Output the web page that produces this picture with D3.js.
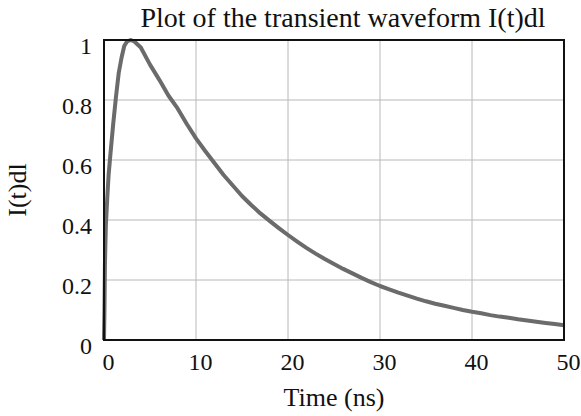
<!DOCTYPE html>
<html>
<head>
<meta charset="utf-8">
<script src="https://cdn.jsdelivr.net/npm/d3@7"></script>
<style>
  html, body { margin: 0; padding: 0; background: #fff; }
  svg { display: block; }
  text { font-family: "Liberation Serif", "Times New Roman", serif; fill: #111; }
</style>
</head>
<body>
<script>
// Transient current waveform I(t)dl, normalised to its peak
const timeNs = [0, 0.05, 0.1, 0.2, 0.35, 0.5, 0.7, 1.0, 1.3, 1.6, 1.9, 2.2, 2.5, 2.9, 3.3, 4, 5, 6, 7, 8, 9, 10,
  11, 12, 13, 14, 15, 16, 17, 18, 19, 20, 21, 22, 23, 24, 25, 26, 27, 28, 29, 30,
  31, 32, 33, 34, 35, 36, 37, 38, 39, 40, 41, 42, 43, 44, 45, 46, 47, 48, 49, 50];
const current = [0, 0.1, 0.25, 0.38, 0.47, 0.55, 0.62, 0.72, 0.81, 0.89, 0.94, 0.98, 0.995, 1.0, 0.995, 0.975, 0.918, 0.868, 0.815, 0.772, 0.72, 0.672,
  0.63, 0.59, 0.55, 0.515, 0.48, 0.45, 0.422, 0.397, 0.373, 0.35, 0.328, 0.307, 0.288, 0.27, 0.253, 0.237, 0.222, 0.207, 0.193, 0.18,
  0.169, 0.158, 0.148, 0.138, 0.129, 0.121, 0.114, 0.107, 0.1, 0.094, 0.089, 0.083, 0.078, 0.074, 0.069, 0.065, 0.061, 0.057, 0.053, 0.049];
const xTicks = [0, 10, 20, 30, 40, 50];
const yTicks = [0, 0.2, 0.4, 0.6, 0.8, 1];
const yTickLabels = ["0", "0.2", "0.4", "0.6", "0.8", "1"];

const W = 581, H = 416;
const margin = { top: 40, right: 17, bottom: 76, left: 104 };
const iw = W - margin.left - margin.right;
const ih = H - margin.top - margin.bottom;

const svg = d3.select("body").append("svg").attr("width", W).attr("height", H);
const g = svg.append("g").attr("transform", `translate(${margin.left},${margin.top})`);

const x = d3.scaleLinear().domain([0, 50]).range([0, iw]);
const y = d3.scaleLinear().domain([0, 1]).range([ih, 0]);

// grid
g.append("g").selectAll("line").data(xTicks.slice(1, -1)).join("line")
  .attr("x1", d => x(d)).attr("x2", d => x(d)).attr("y1", 0).attr("y2", ih)
  .attr("stroke", "#b8b8b8").attr("stroke-width", 1);
g.append("g").selectAll("line").data(yTicks.slice(1, -1)).join("line")
  .attr("y1", d => y(d)).attr("y2", d => y(d)).attr("x1", 0).attr("x2", iw)
  .attr("stroke", "#b8b8b8").attr("stroke-width", 1);

// axes (labels only; the frame is drawn separately)
const xAxis = g.append("g").attr("transform", `translate(0,${ih})`)
  .call(d3.axisBottom(x).tickValues(xTicks).tickSize(0).tickPadding(14).tickFormat(d3.format("d")));
const yAxis = g.append("g")
  .call(d3.axisLeft(y).tickValues(yTicks).tickSize(0).tickPadding(12).tickFormat((d, i) => yTickLabels[i]));
[xAxis, yAxis].forEach(a => {
  a.select(".domain").remove();
  a.selectAll("text").attr("font-size", 24).attr("font-family", "Liberation Serif").attr("fill", "#111");
});
xAxis.selectAll("text").attr("dx", 4).attr("dy", "0.65em");
yAxis.selectAll("text").attr("dy", "0.55em");

// curve
g.append("path")
  .datum(timeNs.map((t, i) => [t, current[i]]))
  .attr("fill", "none")
  .attr("stroke", "#6b6b6b")
  .attr("stroke-width", 4)
  .attr("stroke-linejoin", "round")
  .attr("d", d3.line().x(d => x(d[0])).y(d => y(d[1])));

// frame
g.append("rect").attr("x", 0).attr("y", 0).attr("width", iw).attr("height", ih)
  .attr("fill", "none").attr("stroke", "#111").attr("stroke-width", 2);

// titles
svg.append("text").attr("x", 343).attr("y", 27).attr("text-anchor", "middle")
  .attr("font-size", 28).text("Plot of the transient waveform I(t)dl");
svg.append("text").attr("x", margin.left + iw / 2).attr("y", 406).attr("text-anchor", "middle")
  .attr("font-size", 26).text("Time (ns)");
svg.append("text").attr("transform", `translate(26,${margin.top + ih / 2}) rotate(-90)`)
  .attr("text-anchor", "middle").attr("font-size", 26).text("I(t)dl");
</script>
</body>
</html>
